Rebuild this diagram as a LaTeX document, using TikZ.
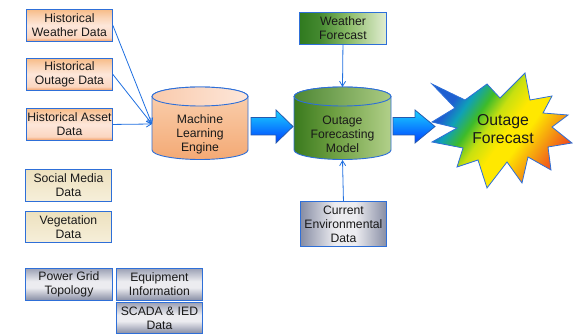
\documentclass[tikz,border=0pt]{standalone}
\usepackage{fontspec}
\setmainfont{Liberation Sans}
\usetikzlibrary{arrows.meta,shadings}

% palette
\definecolor{edgeblue}{HTML}{2E6FD8}
\definecolor{linkblue}{HTML}{1F6FE0}
\definecolor{hA}{HTML}{F29A5C}
\definecolor{hB}{HTML}{FBD6C0}
\definecolor{hC}{HTML}{FDE7DA}
\definecolor{hD}{HTML}{FAD2B2}
\definecolor{hE}{HTML}{F7BC88}
\definecolor{gA}{HTML}{878DA4}
\definecolor{gB}{HTML}{ECECF0}
\definecolor{gC}{HTML}{9CA1B5}
\definecolor{bgA}{HTML}{EDE1BE}
\definecolor{bgB}{HTML}{F6EFDA}
\definecolor{wA}{HTML}{2F7A1F}
\definecolor{wB}{HTML}{8FBE6C}
\definecolor{wC}{HTML}{E2EDD2}
\definecolor{mA}{HTML}{3A7A1E}
\definecolor{mB}{HTML}{6C9E40}
\definecolor{mC}{HTML}{B2D08A}
\definecolor{rbA}{HTML}{1E5FD0}
\definecolor{rbB}{HTML}{0FA0B8}
\definecolor{rbC}{HTML}{3DBB2A}
\definecolor{rbD}{HTML}{C8E010}
\definecolor{rbE}{HTML}{FFE800}
\definecolor{rbF}{HTML}{F59A10}
\definecolor{rbG}{HTML}{F0401E}

% fills
\pgfdeclareverticalshading{histshade}{100bp}{color(0bp)=(hA); color(25bp)=(hA);
  color(31bp)=(hB); color(50bp)=(hC); color(64bp)=(hD); color(75bp)=(hE); color(100bp)=(hE)}
\pgfdeclareverticalshading{gridshade}{100bp}{color(0bp)=(gA); color(25bp)=(gA);
  color(45bp)=(gB); color(55bp)=(gB); color(75bp)=(gC); color(100bp)=(gC)}
\pgfdeclarehorizontalshading{gridhshade}{100bp}{color(0bp)=(gA); color(25bp)=(gA);
  color(45bp)=(gB); color(57bp)=(gB); color(75bp)=(gA); color(100bp)=(gA)}
\pgfdeclarehorizontalshading{wfshade}{100bp}{color(0bp)=(wA); color(25bp)=(wA);
  color(36bp)=(wA!80!wB); color(54bp)=(wB); color(75bp)=(wC); color(100bp)=(wC)}
\pgfdeclarehorizontalshading{drumshade}{100bp}{color(0bp)=(mA); color(25bp)=(mA);
  color(45bp)=(mB); color(75bp)=(mC); color(100bp)=(mC)}
\pgfdeclarehorizontalshading{burst}{100bp}{color(0bp)=(rbA); color(28bp)=(rbA);
  color(33bp)=(rbB); color(39bp)=(rbC); color(45bp)=(rbD); color(52bp)=(rbE);
  color(58bp)=(rbE); color(66bp)=(rbF); color(75bp)=(rbG); color(100bp)=(rbG)}

\tikzset{
  txt/.style={font=\fontsize{12.2}{14}\selectfont, text=black!90, align=center},
  databox/.style={txt, draw=edgeblue, line width=0.9pt, inner sep=0pt,
    minimum width=86pt, minimum height=32pt, anchor=north west},
  histbox/.style={databox, shading=histshade},
  envbox/.style={databox, top color=bgA, bottom color=bgB},
  gridbox/.style={databox, shading=gridshade},
  link/.style={draw=linkblue, line width=0.8pt,
    -{Straight Barb[length=5pt,width=6pt,line width=0.8pt]}},
  blockarrow/.style={draw=edgeblue!80!black, line width=0.8pt,
    top color=cyan!80!blue!90, bottom color=blue!75!cyan},
  drumedge/.style={draw=edgeblue, line width=0.9pt},
}

\begin{document}
\begin{tikzpicture}[x=1pt,y=-1pt]
\useasboundingbox (0,0) rectangle (578,336);

% input data sources
\node[histbox] (hw) at (26,9)   {Historical\\Weather Data};
\node[histbox] (ho) at (26,58)  {Historical\\Outage Data};
\node[histbox] (ha) at (26,108) {Historical Asset\\Data};
\node[envbox]  (sm) at (25,169) {Social Media\\Data};
\node[envbox, minimum height=31pt] (vg) at (25,211) {Vegetation\\Data};
\node[gridbox, minimum width=87pt] (pg) at (25,268) {Power Grid\\Topology};
\node[gridbox] (eq) at (116,268) {Equipment\\Information};
\node[gridbox, minimum height=31pt] (sc) at (116,302) {SCADA \& IED\\Data};

\node[databox, shading=wfshade, minimum width=87pt] (wf) at (299,12) {Weather\\Forecast};
\node[databox, shading=gridhshade, minimum height=45pt] (ce) at (300,201)
  {Current\\Environmental\\Data};

% machine learning engine drum
\path[drumedge, top color=hD, bottom color=hA!85]
  (152,96.5) -- (152,150)
  arc[start angle=180, end angle=360, x radius=48pt, y radius=9.5pt]
  -- (248,96.5)
  arc[start angle=0, end angle=180, x radius=48pt, y radius=9.5pt] -- cycle;
\path[drumedge, left color=hB!80!hA, right color=hC]
  (200,96.5) ellipse[x radius=48pt, y radius=9.5pt];
\node[txt] (ml) at (200,134) {Machine\\Learning\\Engine};
\coordinate (mlin) at (152,124);

% outage forecasting model drum
\path[drumedge, shading=drumshade]
  (294,96.5) -- (294,150)
  arc[start angle=180, end angle=360, x radius=48.5pt, y radius=9.5pt]
  -- (391,96.5)
  arc[start angle=0, end angle=180, x radius=48.5pt, y radius=9.5pt] -- cycle;
\path[drumedge, left color=mA!90!white, right color=mC!90!mB]
  (342.5,96.5) ellipse[x radius=48.5pt, y radius=9.5pt];
\node[txt] (ofm) at (342.5,134) {Outage\\Forecasting\\Model};
\coordinate (ofmtop) at (342.5,87);
\coordinate (ofmbot) at (342.5,160);

% forecast starburst
\path[draw=edgeblue, line width=0.8pt, shading=burst, shading angle=-35]
  (432,84) -- (465,100) -- (487,84) -- (500,98) -- (525,73) -- (530,100)
  -- (552,96) -- (543,113) -- (568,115) -- (552,127) -- (572,143) -- (548,147)
  -- (551,170) -- (528,157) -- (522,183) -- (507,162) -- (487,188) -- (478,160)
  -- (457,167) -- (463,148) -- (432,142) -- (457,128) -- (432,122) -- (455,108)
  -- cycle;
\node[font=\fontsize{15.8}{18}\selectfont, text=black!90, align=center] (of)
  at (503,129) {Outage\\Forecast};

% thin connectors
\draw[link] (hw.east) -- (mlin);
\draw[link] (ho.east) -- (mlin);
\draw[link] (ha.east) -- (mlin);
\draw[link] (wf.south) -- (ofmtop);
\draw[link] (ce.north) -- (ofmbot);

% block arrows between stages
\path[blockarrow] (251,117.5) -- (276,117.5) -- (276,110) -- (293,126.5)
  -- (276,143) -- (276,135) -- (251,135) -- cycle;
\path[blockarrow] (393,117.5) -- (415,117.5) -- (415,110) -- (435,126.5)
  -- (415,143) -- (415,135) -- (393,135) -- cycle;
\end{tikzpicture}
\end{document}
